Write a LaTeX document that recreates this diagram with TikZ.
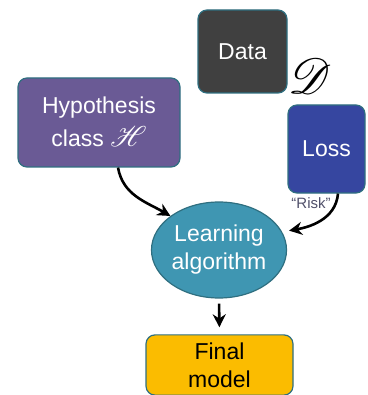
\documentclass[tikz,border=0pt]{standalone}
\usepackage{fontspec}
\usepackage{mathrsfs}
\usepackage{graphicx}
\setmainfont{Liberation Sans}
\usetikzlibrary{arrows.meta,shapes.geometric}

\definecolor{datagray}{HTML}{404040}
\definecolor{hyppurple}{HTML}{6A5A95}
\definecolor{lossblue}{HTML}{3646A0}
\definecolor{learnteal}{HTML}{3F96B2}
\definecolor{finalorange}{HTML}{FBBC00}
\definecolor{edgeteal}{HTML}{2F6F80}
\definecolor{riskgray}{HTML}{50506A}

\newcommand{\scrletter}[2]{\scalebox{#1}{$\mathscr{#2}$}}

\tikzset{
	box/.style={draw=edgeteal, line width=1.2pt, rounded corners=9pt, align=center, text=white},
	flow/.style={line width=2.6pt, -{Stealth[length=13pt,width=13pt]}}
}

\begin{document}
\begin{tikzpicture}[x=1pt,y=-1pt]
			\fontsize{23}{28}\selectfont
			\useasboundingbox (0,0) rectangle (367,395);
			\node [box, fill=datagray, minimum width=89pt, minimum height=83pt] (data) at (242.5,51.5) {Data};
			\node (dscr) at (310,76) {\scrletter{2}{D}};
			\node [box, fill=hyppurple, minimum width=162pt, minimum height=89pt] (hyp) at (99,122.5) {Hypothesis\\[5pt]class \raisebox{0pt}[16pt][2pt]{\scrletter{1.15}{H}}};
			\node [box, fill=lossblue, minimum width=77pt, minimum height=88pt] (loss) at (326.5,149) {Loss};
			\node [ellipse, draw=edgeteal, line width=1.2pt, fill=learnteal, text=white, align=center, inner sep=0pt, minimum width=135pt, minimum height=96pt] (learn) at (219,250) {Learning\\algorithm};
			\node [box, fill=finalorange, text=black, minimum width=147pt, minimum height=60pt] (final) at (219.5,365) {Final\\model};
			\node [text=riskgray] (risk) at (311,203) {\fontsize{15}{15}\selectfont ``Risk''};
			\draw [flow] ([xshift=19pt]hyp.south) to [out=-80, in=150] (learn.145);
			\draw [flow, shorten >=7pt] ([xshift=11.5pt]loss.south) to [out=-95, in=10] (learn.16);
			\draw [flow, shorten <=5pt, shorten >=7pt] (learn.south) -- (final.north);
		\end{tikzpicture}
\end{document}
